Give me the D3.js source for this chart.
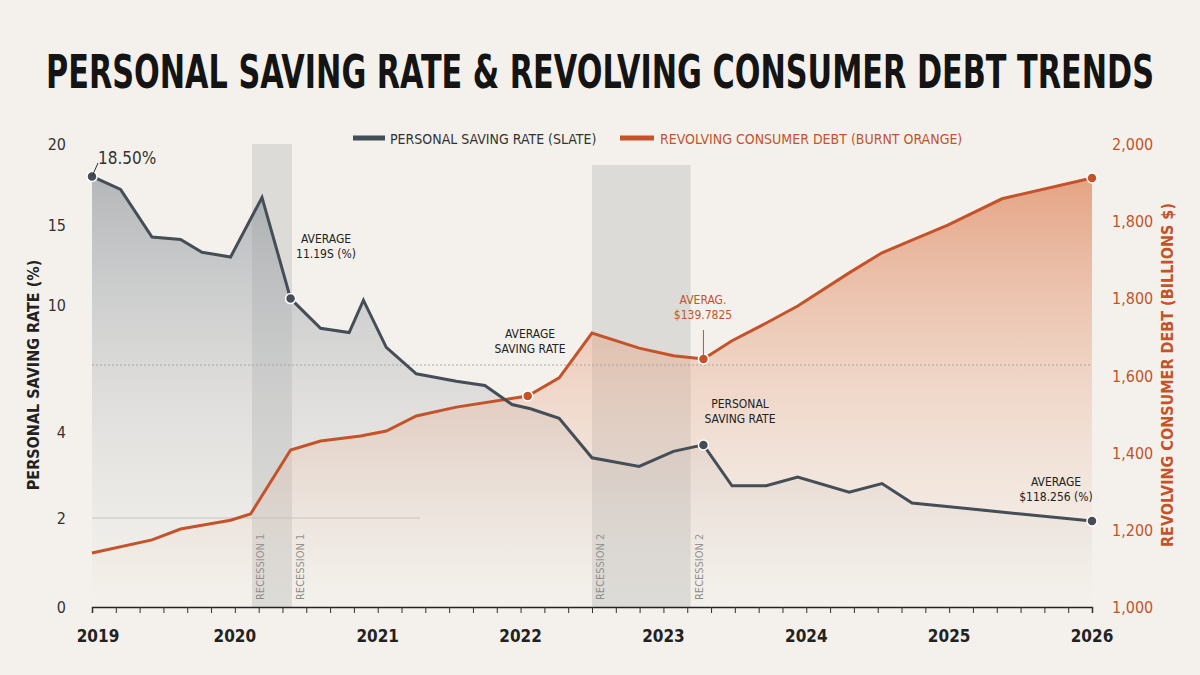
<!DOCTYPE html>
<html><head><meta charset="utf-8">
<script src="https://cdn.jsdelivr.net/npm/d3@7"></script>
<style>
body{margin:0;background:#f4f1ec;}
text{font-family:"DejaVu Sans Condensed","DejaVu Sans",sans-serif;}
</style></head>
<body><svg id="c" width="1200" height="675"></svg>
<script>
// data
const savingYears = [2019.0,2019.2,2019.42,2019.62,2019.77,2019.97,2020.19,2020.39,2020.6,2020.8,2020.9,2021.06,2021.27,2021.55,2021.75,2021.94,2022.07,2022.27,2022.5,2022.83,2023.07,2023.28,2023.48,2023.72,2023.94,2024.3,2024.53,2024.74,2026.0];
const savingRate = [18.0,17.2,14.25,14.1,13.3,13.0,16.7,10.4,8.9,8.7,10.3,8.0,6.75,6.4,6.2,5.3,5.1,4.65,3.4,3.2,3.55,3.7,2.75,2.75,2.95,2.6,2.8,2.35,1.93];
const debtYears = [2019.0,2019.42,2019.62,2019.97,2020.11,2020.39,2020.6,2020.88,2021.06,2021.27,2021.55,2022.05,2022.27,2022.5,2022.83,2023.07,2023.28,2023.48,2023.72,2023.94,2024.3,2024.53,2024.74,2024.99,2025.37,2026.0];
const debtValues = [1140,1174,1202,1225,1241,1407,1430,1443,1456,1495,1518,1547,1594,1710,1671,1651,1643,1690,1736,1780,1866,1918,1951,1990,2058,2112];
const leftTicks = [0,2,4,10,15,20];
const rightTicks = [1000,1200,1400,1600,1800,2000,2200];
const rightTickLabels = ["1,000","1,200","1,400","1,600","1,800","1,800","2,000"];
const yearTicks = [2019,2020,2021,2022,2023,2024,2025,2026];
const recessions = [[2020.12,2020.4,"RECESSION 1"],[2022.5,2023.19,"RECESSION 2"]];

const svg = d3.select("#c");
const slate = "#454d57", orange = "#c4532a";
const x = d3.scaleLinear().domain([2019,2026]).range([92,1092]);
const yL = d3.scaleLinear().domain(leftTicks).range([607,518,432,305,225,144]);
const yR = d3.scaleLinear().domain([1000,2200]).range([607,144]);
const bottom = 607;

const defs = svg.append("defs");
const g1 = defs.append("linearGradient").attr("id","gs").attr("x1",0).attr("x2",0).attr("y1",0).attr("y2",1);
g1.append("stop").attr("offset","0%").attr("stop-color","#8a9098").attr("stop-opacity",0.6);
g1.append("stop").attr("offset","100%").attr("stop-color","#c9ccd0").attr("stop-opacity",0.0);
const g2 = defs.append("linearGradient").attr("id","go").attr("x1",0).attr("x2",0).attr("y1",0).attr("y2",1);
g2.append("stop").attr("offset","0%").attr("stop-color","#e08a62").attr("stop-opacity",0.75);
g2.append("stop").attr("offset","100%").attr("stop-color","#f1d2c0").attr("stop-opacity",0.0);

// title
svg.append("text").attr("x",600).attr("y",88).attr("text-anchor","middle")
  .attr("font-size",46).attr("font-weight","bold").attr("fill","#141414")
  .attr("textLength",1108).attr("lengthAdjust","spacingAndGlyphs")
  .text("PERSONAL SAVING RATE & REVOLVING CONSUMER DEBT TRENDS");

// recession bands
recessions.forEach(r=>{
  const top = r[0]<2021?144:165;
  svg.append("rect").attr("x",x(r[0])).attr("y",top).attr("width",x(r[1])-x(r[0]))
    .attr("height",bottom-top).attr("fill","#c8c8c6").attr("opacity",0.55);
  [x(r[0])+12,x(r[1])+12].forEach(px=>{
    svg.append("text").attr("transform",`translate(${px},600) rotate(-90)`).attr("font-size",11)
      .attr("fill","#888").text(r[2]);
  });
});

// areas
svg.append("path").datum(savingYears.map((d,i)=>[d,savingRate[i]]))
  .attr("d",d3.area().x(d=>x(d[0])).y0(bottom).y1(d=>yL(d[1]))).attr("fill","url(#gs)");
svg.append("path").datum(debtYears.map((d,i)=>[d,debtValues[i]]))
  .attr("d",d3.area().x(d=>x(d[0])).y0(bottom).y1(d=>yR(d[1]))).attr("fill","url(#go)");

// reference lines
svg.append("line").attr("x1",92).attr("x2",1092).attr("y1",365).attr("y2",365)
  .attr("stroke","#999").attr("stroke-dasharray","2,2").attr("stroke-width",0.8);
svg.append("line").attr("x1",92).attr("x2",420).attr("y1",yL(2)).attr("y2",yL(2))
  .attr("stroke","#bbb").attr("stroke-width",0.8);

// lines
svg.append("path").datum(debtYears.map((d,i)=>[d,debtValues[i]]))
  .attr("d",d3.line().x(d=>x(d[0])).y(d=>yR(d[1]))).attr("fill","none").attr("stroke",orange).attr("stroke-width",3);
svg.append("path").datum(savingYears.map((d,i)=>[d,savingRate[i]]))
  .attr("d",d3.line().x(d=>x(d[0])).y(d=>yL(d[1]))).attr("fill","none").attr("stroke",slate).attr("stroke-width",3);

// markers
const dots = [[savingYears[0],yL(savingRate[0]),slate],[savingYears[7],yL(savingRate[7]),slate],
  [savingYears[21],yL(savingRate[21]),slate],[savingYears[28],yL(savingRate[28]),slate],
  [debtYears[11],yR(debtValues[11]),orange],[debtYears[16],yR(debtValues[16]),orange],[debtYears[25],yR(debtValues[25]),orange]];
dots.forEach(d=>svg.append("circle").attr("cx",x(d[0])).attr("cy",d[1]).attr("r",5)
  .attr("fill",d[2]).attr("stroke","#fff").attr("stroke-width",1.5));

// annotations
function note(px,py,lines,color,size,anchor){
  lines.forEach((t,i)=>svg.append("text").attr("x",px).attr("y",py+i*(size+3)).attr("text-anchor",anchor||"middle")
    .attr("font-size",size).attr("fill",color).text(t));
}
note(98,164,["18.50%"],"#333",17,"start");
svg.append("line").attr("x1",x(2019)).attr("y1",yL(savingRate[0])).attr("x2",98).attr("y2",163).attr("stroke","#333");
note(326,243,["AVERAGE","11.19S (%)"],"#222",12);
note(530,338,["AVERAGE","SAVING RATE"],"#222",12);
note(703,304,["AVERAG.","$139.7825"],orange,12);
svg.append("line").attr("x1",x(2023.28)).attr("y1",yR(1643)).attr("x2",x(2023.28)).attr("y2",330).attr("stroke",orange);
note(740,408,["PERSONAL","SAVING RATE"],"#222",12);
note(1056,486,["AVERAGE","$118.256 (%)"],"#222",12);

// legend
svg.append("line").attr("x1",353).attr("x2",385).attr("y1",138).attr("y2",138).attr("stroke",slate).attr("stroke-width",5);
svg.append("text").attr("x",390).attr("y",144).attr("font-size",14).attr("fill","#333").text("PERSONAL SAVING RATE (SLATE)");
svg.append("line").attr("x1",620).attr("x2",654).attr("y1",138).attr("y2",138).attr("stroke",orange).attr("stroke-width",5);
svg.append("text").attr("x",660).attr("y",144).attr("font-size",14).attr("fill",orange).text("REVOLVING CONSUMER DEBT (BURNT ORANGE)");

// axes
const ax = svg.append("g").attr("transform",`translate(0,${bottom})`)
  .call(d3.axisBottom(x).tickValues(d3.range(2019,2026.01,1/6)).tickSize(6).tickFormat(""));
ax.select(".domain").attr("stroke","#222").attr("stroke-width",1.5);
ax.selectAll(".tick line").attr("stroke","#333");
yearTicks.forEach(yr=>svg.append("text").attr("x",x(yr)+(yr===2019?6:0)).attr("y",642).attr("text-anchor","middle")
  .attr("font-size",17).attr("font-weight","bold").attr("fill","#222").text(yr));

leftTicks.forEach(v=>svg.append("text").attr("x",66).attr("y",yL(v)+6).attr("text-anchor","end")
  .attr("font-size",16).attr("fill","#333").text(v));
rightTicks.forEach((v,i)=>svg.append("text").attr("x",1112).attr("y",yR(v)+6)
  .attr("font-size",16).attr("fill",orange).text(rightTickLabels[i]));
svg.append("text").attr("transform","translate(39,375) rotate(-90)").attr("text-anchor","middle")
  .attr("font-size",16).attr("font-weight","bold").attr("fill","#222").text("PERSONAL SAVING RATE (%)");
svg.append("text").attr("transform","translate(1173,375) rotate(-90)").attr("text-anchor","middle")
  .attr("font-size",16).attr("font-weight","bold").attr("fill",orange).text("REVOLVING CONSUMER DEBT (BILLIONS $)");
</script></body></html>
